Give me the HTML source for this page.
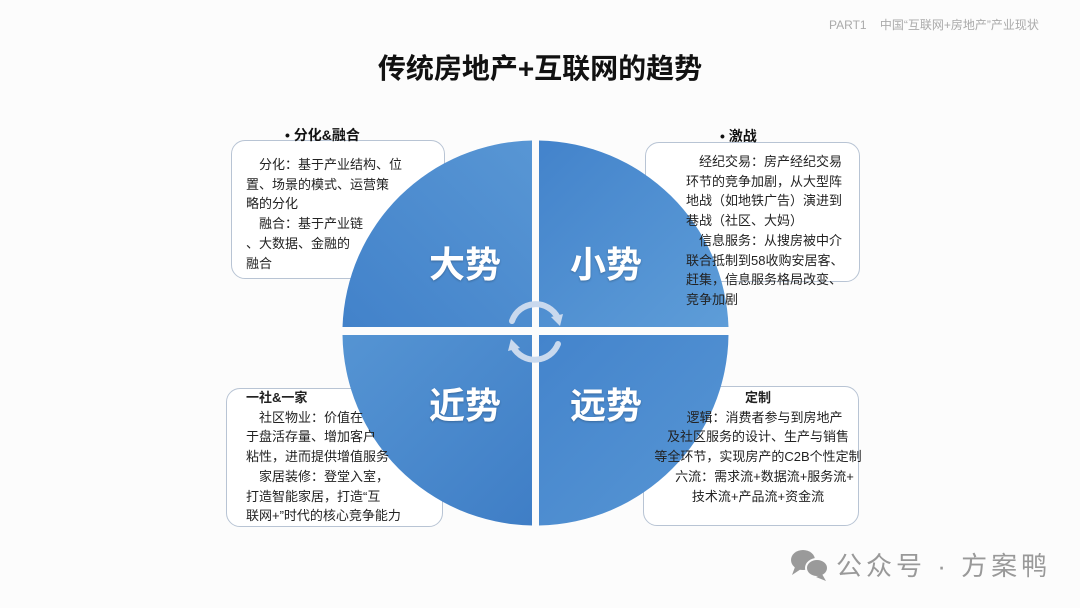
<!DOCTYPE html>
<html><head><meta charset="utf-8"><style>
body{margin:0;width:1080px;height:608px;background:#fcfcfc;position:relative;overflow:hidden;font-family:"Liberation Sans","Noto Sans CJK SC",sans-serif;}
.a{position:absolute;}
.box{position:absolute;border:1px solid #b8c4d4;border-radius:14px;background:#fff;}
.t{position:absolute;font-size:13px;color:#222;white-space:nowrap;line-height:19.7px;}
.h{position:absolute;font-size:14px;font-weight:bold;color:#111;white-space:nowrap;}
.q{position:absolute;font-size:36px;font-weight:bold;color:#fff;white-space:nowrap;transform:translate(-50%,-50%);text-shadow:0 1px 2px rgba(0,0,0,.25);}
</style></head><body>
<div class="a" style="left:829px;top:16px;font-size:12px;color:#aaa;white-space:nowrap;">PART1&nbsp;&nbsp;&nbsp;&nbsp;中国“互联网+房地产”产业现状</div>
<div class="a" style="left:0;width:1080px;top:47px;text-align:center;font-size:28px;font-weight:bold;color:#111;">传统房地产+互联网的趋势</div>

<div class="box" style="left:231px;top:140px;width:212px;height:137px;"></div>
<div class="box" style="left:645px;top:142px;width:213px;height:138px;"></div>
<div class="box" style="left:226px;top:388px;width:215px;height:137px;"></div>
<div class="box" style="left:643px;top:386px;width:214px;height:138px;"></div>

<svg class="a" style="left:0;top:0" width="1080" height="608">
<defs>
<linearGradient id="g1" x1="0" y1="1" x2="1" y2="0"><stop offset="0" stop-color="#4282ca"/><stop offset="1" stop-color="#5896d4"/></linearGradient>
<linearGradient id="g2" x1="0" y1="0" x2="1" y2="1"><stop offset="0" stop-color="#4383cb"/><stop offset="1" stop-color="#5e9dd8"/></linearGradient>
<linearGradient id="g3" x1="0" y1="0" x2="1" y2="1"><stop offset="0" stop-color="#5594d3"/><stop offset="1" stop-color="#3f7ec6"/></linearGradient>
<linearGradient id="g4" x1="0" y1="0" x2="1" y2="1"><stop offset="0" stop-color="#4484cc"/><stop offset="1" stop-color="#5796d4"/></linearGradient>
</defs>
<path d="M532 327 L532 140.5 A193 193 0 0 0 342.5 327 Z" fill="url(#g1)"/>
<path d="M539 327 L539 140.5 A193 193 0 0 1 728.5 327 Z" fill="url(#g2)"/>
<path d="M532 335 L532 525.5 A193 193 0 0 1 342.5 335 Z" fill="url(#g3)"/>
<path d="M539 335 L539 525.5 A193 193 0 0 0 728.5 335 Z" fill="url(#g4)"/>
<g fill="none" stroke="#c9d9ee" stroke-width="6" stroke-linecap="round">
<path d="M512 321 A25 25 0 0 1 558 318"/>
<path d="M558 344 A25 25 0 0 1 513 347"/>
</g>
<path d="M551 317 L563 314 L560 326 Z" fill="#c9d9ee"/>
<path d="M520 348 L508 351 L511 339 Z" fill="#c9d9ee"/>
<g fill="#9a9a9a">
<ellipse cx="803" cy="560" rx="12" ry="10"/><path d="M795 567 L792 575 L801 569Z"/>
<ellipse cx="817" cy="568" rx="11" ry="9" stroke="#fcfcfc" stroke-width="2"/><path d="M822 574 L826 581 L816 577Z"/>
</g>
</svg>

<div class="q" style="left:465px;top:262px;">大势</div>
<div class="q" style="left:606px;top:262px;">小势</div>
<div class="q" style="left:465px;top:403px;">近势</div>
<div class="q" style="left:606px;top:403px;">远势</div>

<div class="h" style="left:285px;top:125px;">• 分化&amp;融合</div>
<div class="t" style="left:246px;top:155px;">　分化：基于产业结构、位<br>置、场景的模式、运营策<br>略的分化<br>　融合：基于产业链<br>、大数据、金融的<br>融合</div>

<div class="h" style="left:720px;top:126px;">• 激战</div>
<div class="t" style="left:686px;top:152px;">　经纪交易：房产经纪交易<br>环节的竞争加剧，从大型阵<br>地战（如地铁广告）演进到<br>巷战（社区、大妈）<br>　信息服务：从搜房被中介<br>联合抵制到58收购安居客、<br>赶集，信息服务格局改变、<br>竞争加剧</div>

<div class="t" style="left:246px;top:388px;"><b style="font-size:13px;">一社&amp;一家</b><br>　社区物业：价值在<br>于盘活存量、增加客户<br>粘性，进而提供增值服务<br>　家居装修：登堂入室，<br>打造智能家居，打造“互<br>联网+”时代的核心竞争能力</div>

<div class="t" style="left:643px;width:230px;top:388px;text-align:center;"><b>定制</b><br>　逻辑：消费者参与到房地产<br>及社区服务的设计、生产与销售<br>等全环节，实现房产的C2B个性定制<br>　六流：需求流+数据流+服务流+<br>技术流+产品流+资金流</div>

<div class="a" style="left:836px;top:546px;font-size:26px;color:#999;white-space:nowrap;letter-spacing:4px;">公众号 · 方案鸭</div>
</body></html>
